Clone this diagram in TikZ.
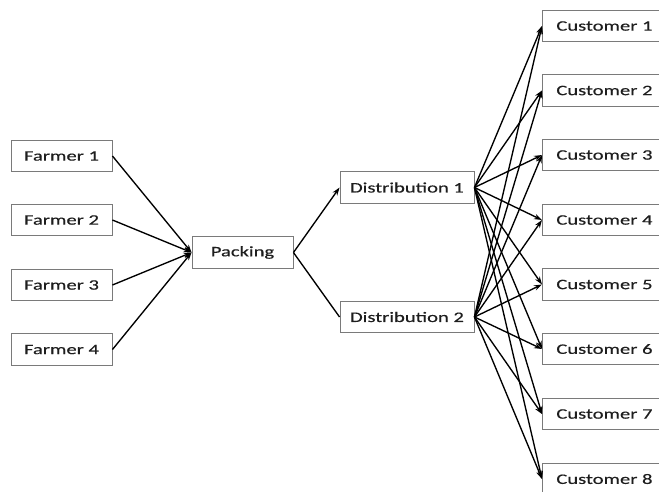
\documentclass[tikz,border=0pt]{standalone}
\usepackage{fontspec}
\setmainfont{Carlito}[FakeStretch=1.42,FakeBold=0.35]
\usetikzlibrary{arrows.meta}
\definecolor{boxline}{HTML}{7A7A7A}
\definecolor{txt}{HTML}{1E1E1E}
\tikzset{
  box/.style={draw=boxline, line width=0.9pt, fill=white, rectangle, inner sep=0pt,
    minimum height=31.5pt, font=\fontsize{14.5pt}{16pt}\selectfont, text=txt},
  farmerbox/.style={box, minimum width=101pt},
  packbox/.style={box, minimum width=101pt},
  distbox/.style={box, minimum width=134pt},
  custbox/.style={box, minimum width=124pt, anchor=west},
  conn/.style={line width=1.35pt, black},
  arr/.style={conn, -{Stealth[length=8pt,width=5.5pt]}}
}
\begin{document}
\begin{tikzpicture}[x=1pt,y=-1pt]
\useasboundingbox[fill=white] (0,0) rectangle (659,491);
\node[farmerbox] (f1) at (61.5,156) {Farmer 1};
\node[farmerbox] (f2) at (61.5,220) {Farmer 2};
\node[farmerbox] (f3) at (61.5,285) {Farmer 3};
\node[farmerbox] (f4) at (61.5,349.5) {Farmer 4};
\node[packbox] (p) at (242.5,252.5) {Packing};
\node[distbox] (d1) at (407,187.5) {Distribution 1};
\node[distbox] (d2) at (407,317) {Distribution 2};
\node[custbox] (c1) at (542,26) {Customer 1};
\node[custbox] (c2) at (542,90.5) {Customer 2};
\node[custbox] (c3) at (542,155) {Customer 3};
\node[custbox] (c4) at (542,220) {Customer 4};
\node[custbox] (c5) at (542,284.5) {Customer 5};
\node[custbox] (c6) at (542,349) {Customer 6};
\node[custbox] (c7) at (542,414) {Customer 7};
\node[custbox] (c8) at (542,479) {Customer 8};
\foreach \f in {f1,f2,f3,f4} \draw[arr] (\f.east) -- (p.west);
\draw[arr] (p.east) -- (d1.west);
\draw[conn] (p.east) -- (d2.west);
\foreach \d in {d1,d2}
  \foreach \c in {c1,c2,c3,c4,c5,c6,c7,c8}
    \draw[arr] (\d.east) -- (\c.west);
\end{tikzpicture}
\end{document}
